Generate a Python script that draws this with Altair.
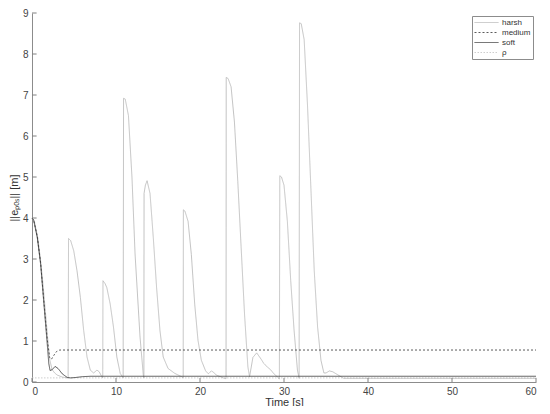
import altair as alt
import pandas as pd

# ---- data ----
harsh_t = [0, 0.3, 0.7, 1.0, 1.3, 1.6, 1.85, 2.1, 2.4, 2.7, 3.0, 3.6, 4.3,
           4.35, 4.6, 4.97, 5.36, 5.76, 6.15, 6.55, 6.94, 7.34, 7.73, 8.0, 8.2, 8.42,
           8.45, 8.7, 8.91, 9.31, 9.7, 10.1, 10.5, 10.85,
           10.9, 11.1, 11.48, 11.9, 12.27, 12.86, 13.25, 13.32,
           13.34, 13.5, 13.7, 14.05, 14.44, 14.83, 15.23, 15.62, 16.2, 17.0, 17.8, 18.0,
           18.02, 18.2, 18.58, 18.97, 19.37, 19.76, 20.16, 20.67, 21.0, 21.35, 21.6, 21.93, 22.9, 23.1,
           23.12, 23.35, 23.7, 24.1, 24.5, 24.9, 25.3, 25.7, 25.9, 26.3, 26.75, 27.3, 27.6, 28.0, 28.4, 28.8, 29.35, 29.45,
           29.5, 29.7, 30.0, 30.4, 30.8, 31.2, 31.6, 31.8,
           31.85, 32.05, 32.4, 32.8, 33.2, 33.6, 34.0, 34.4, 34.75, 35.0, 35.4, 35.8, 36.2, 37.1, 60]
harsh_v = [4.0, 3.9, 3.5, 3.0, 2.4, 1.7, 1.1, 0.55, 0.3, 0.22, 0.17, 0.12, 0.1,
           3.5, 3.45, 3.2, 2.71, 2.06, 1.26, 0.61, 0.29, 0.22, 0.29, 0.25, 0.17, 0.1,
           2.47, 2.4, 2.3, 1.9, 1.34, 0.61, 0.21, 0.1,
           6.92, 6.9, 6.5, 5.0, 3.12, 1.1, 0.17, 0.1,
           4.6, 4.8, 4.91, 4.6, 3.52, 2.31, 1.26, 0.61, 0.33, 0.21, 0.13, 0.1,
           4.2, 4.17, 3.92, 3.11, 1.9, 1.02, 0.53, 0.27, 0.2, 0.27, 0.24, 0.17, 0.09, 0.08,
           7.43, 7.4, 7.2, 6.34, 4.89, 3.27, 1.66, 0.37, 0.13, 0.6, 0.71, 0.55, 0.45, 0.37, 0.3, 0.2, 0.1, 0.07,
           5.03, 5.0, 4.8, 3.92, 2.47, 1.26, 0.29, 0.09,
           8.76, 8.74, 8.35, 6.74, 4.73, 2.71, 1.34, 0.53, 0.22, 0.22, 0.27, 0.25, 0.2, 0.09, 0.09]

medium_t = [0, 0.2, 0.63, 1.03, 1.42, 1.81, 2.1, 2.3, 2.6, 2.9, 3.3, 60]
medium_v = [4.0, 3.95, 3.55, 2.9, 1.95, 1.05, 0.6, 0.55, 0.65, 0.74, 0.78, 0.78]

soft_t = [0, 0.2, 0.63, 1.03, 1.42, 1.81, 2.0, 2.15, 2.4, 2.75, 3.1, 3.6, 4.2, 4.6, 5.2, 6.0, 7.0, 60]
soft_v = [4.0, 3.95, 3.52, 2.87, 1.9, 0.94, 0.45, 0.28, 0.3, 0.38, 0.33, 0.2, 0.11, 0.1, 0.11, 0.13, 0.14, 0.14]

rho_t = [0, 60]
rho_v = [0.1, 0.1]

series_names = ["harsh", "medium", "soft", "ρ"]
series_colors = ["#b4b4b4", "#3a3a3a", "#3a3a3a", "#c8c8c8"]
series_dash = [[1, 0], [2, 2], [1, 0], [1.5, 1.5]]
series_width = [0.8, 0.9, 1.0, 1.8]

x_ticks = [0, 10, 20, 30, 40, 50, 60]
y_ticks = [0, 1, 2, 3, 4, 5, 6, 7, 8, 9]

rows = []
for name, ts, vs in [("ρ", rho_t, rho_v), ("harsh", harsh_t, harsh_v),
                     ("medium", medium_t, medium_v), ("soft", soft_t, soft_v)]:
    for i, (t, v) in enumerate(zip(ts, vs)):
        rows.append({"series": name, "t": t, "v": v, "i": i})
df = pd.DataFrame(rows)

FONT = "Liberation Sans"

xscale = alt.Scale(domain=[0, 60], nice=False, zero=False)
yscale = alt.Scale(domain=[0, 9], nice=False, zero=False)

legend_opts = dict(title=None, orient="none", legendX=440, legendY=3,
                   symbolType="stroke", symbolSize=576,
                   symbolStrokeWidth=1, clipHeight=9,
                   labelFontSize=8, labelColor="#333333", labelFont=FONT,
                   strokeColor="#8c8c8c", fillColor="white",
                   padding=2, rowPadding=1, labelOffset=3)

lines = alt.Chart(df).mark_line(interpolate="linear").encode(
    x=alt.X("t:Q", scale=xscale,
            axis=alt.Axis(title="Time [s]", values=x_ticks, ticks=False, grid=False,
                          labelPadding=4, titlePadding=0)),
    y=alt.Y("v:Q", scale=yscale,
            axis=alt.Axis(title="||eₚₒₛ|| [m]", values=y_ticks, ticks=False, grid=False,
                          labelPadding=4, titlePadding=3)),
    color=alt.Color("series:N",
                    scale=alt.Scale(domain=series_names, range=series_colors),
                    legend=alt.Legend(**legend_opts)),
    strokeDash=alt.StrokeDash("series:N",
                              scale=alt.Scale(domain=series_names, range=series_dash),
                              legend=alt.Legend(**legend_opts)),
    strokeWidth=alt.StrokeWidth("series:N",
                                scale=alt.Scale(domain=series_names, range=series_width),
                                legend=None),
    detail="series:N",
    order="i:Q",
)

xt = pd.DataFrame({"t": x_ticks})
yt = pd.DataFrame({"v": y_ticks})

xtick_rules = alt.Chart(xt).mark_rule(color="#808080", strokeWidth=1).encode(
    x=alt.X("t:Q", scale=xscale),
    y=alt.datum(0, scale=yscale),
    y2=alt.datum(0.1),
)
ytick_rules = alt.Chart(yt).mark_rule(color="#808080", strokeWidth=1).encode(
    y=alt.Y("v:Q", scale=yscale),
    x=alt.datum(0, scale=xscale),
    x2=alt.datum(0.55),
)

chart = alt.layer(lines, xtick_rules, ytick_rules).properties(
    width=504, height=369,
    autosize=alt.AutoSizeParams(type="none"),
    padding={"left": 24, "top": 5, "right": 6, "bottom": 24},
).configure_view(stroke=None).configure_axis(
    domainColor="#8c8c8c", domainWidth=1,
    labelColor="#444444", labelFont=FONT, labelFontSize=10,
    titleColor="#333333", titleFont=FONT, titleFontSize=11, titleFontWeight="normal",
)

chart.save("out.html", embed_options={"renderer": "svg", "actions": False})
